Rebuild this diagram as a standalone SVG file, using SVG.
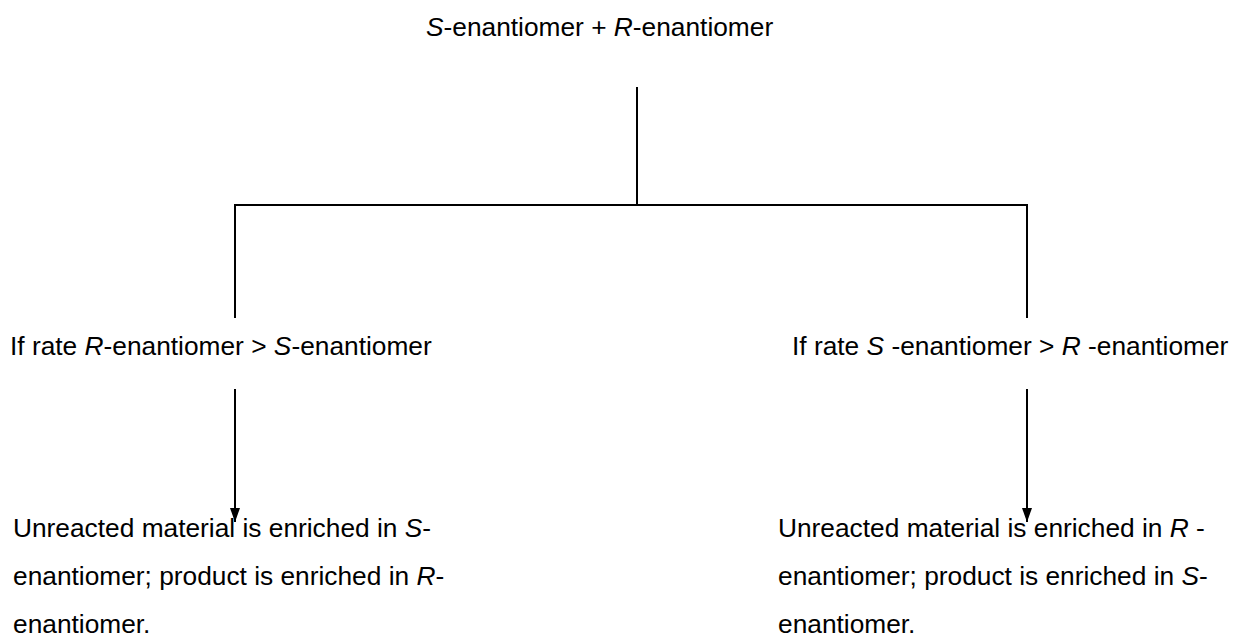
<svg xmlns="http://www.w3.org/2000/svg" width="1237" height="638" viewBox="0 0 1237 638">
<style>
text{font-family:"Liberation Sans",Arial,sans-serif;font-size:26.3px;fill:#000}
.i{font-style:italic}
.ln{stroke:#000;stroke-width:2;fill:none}
</style>
<defs>
<marker id="ah" markerWidth="14" markerHeight="10" refX="14" refY="5" orient="auto" markerUnits="userSpaceOnUse" viewBox="0 0 14 10">
<path d="M0,0 L14,5 L0,10 Z" fill="#000"/>
</marker>
</defs>
<rect width="1237" height="638" fill="#fff"/>
<g id="connectors">
<path class="ln" d="M637,87 V205"/>
<path class="ln" d="M235,318 V205 H1027 V318"/>
<path class="ln" d="M235,389 V522" marker-end="url(#ah)"/>
<path class="ln" d="M1027,389 V522" marker-end="url(#ah)"/>
</g>
<g id="start">
<text x="426" y="36"><tspan class="i">S</tspan>-enantiomer + <tspan class="i">R</tspan>-enantiomer</text>
</g>
<g id="cond-left">
<text x="10" y="355">If rate <tspan class="i">R</tspan>-enantiomer &gt; <tspan class="i">S</tspan>-enantiomer</text>
</g>
<g id="cond-right">
<text x="792" y="355">If rate <tspan class="i">S</tspan> -enantiomer &gt; <tspan class="i">R</tspan> -enantiomer</text>
</g>
<g id="result-left">
<text x="13" y="537">Unreacted material is enriched in <tspan class="i">S</tspan>-</text>
<text x="13" y="585">enantiomer; product is enriched in <tspan class="i">R</tspan>-</text>
<text x="13" y="633">enantiomer.</text>
</g>
<g id="result-right">
<text x="778" y="537">Unreacted material is enriched in <tspan class="i">R</tspan> -</text>
<text x="778" y="585">enantiomer; product is enriched in <tspan class="i">S</tspan>-</text>
<text x="778" y="633">enantiomer.</text>
</g>
</svg>
